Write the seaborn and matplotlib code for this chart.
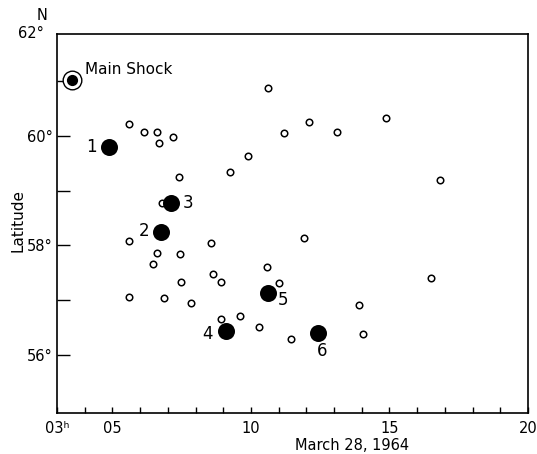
import matplotlib
matplotlib.use("Agg")
import matplotlib.pyplot as plt
import seaborn as sns
import pandas as pd

# Aftershocks (open circles): hour (UT, March 28 1964), latitude
after_hour = [5.60, 6.14, 6.61, 6.68, 7.19, 7.40, 6.79, 9.25, 9.90, 10.62,
              11.19, 12.10, 13.11, 14.88, 16.83, 5.60, 6.61, 7.44, 6.47, 7.48,
              5.60, 6.86, 7.84, 8.56, 8.63, 8.92, 11.92, 10.58, 11.01, 8.92,
              9.61, 10.29, 11.45, 13.90, 14.05, 16.50]
after_lat = [60.22, 60.07, 60.07, 59.87, 59.98, 59.25, 58.78, 59.34, 59.63, 60.88,
             60.05, 60.26, 60.07, 60.33, 59.20, 58.08, 57.86, 57.84, 57.66, 57.33,
             57.06, 57.04, 56.95, 58.05, 57.48, 57.33, 58.14, 57.61, 57.32, 56.66,
             56.71, 56.51, 56.29, 56.91, 56.38, 57.41]

# Large numbered events
big_label = ["1", "2", "3", "4", "5", "6"]
big_hour = [4.88, 6.75, 7.12, 9.10, 10.62, 12.42]
big_lat = [59.80, 58.25, 58.78, 56.44, 57.13, 56.40]

# Main shock
main_hour = [3.54]
main_lat = [61.02]

xtick_vals = [3, 5, 10, 15, 20]
xtick_labels = ["03ʰ", "05", "10", "15", "20"]
ytick_vals = [56, 58, 60]
ytick_labels = ["56°", "58°", "60°"]

sns.set_style("white")
plt.rcParams["font.family"] = ["DejaVu Sans"]
plt.rcParams["text.color"] = "black"
plt.rcParams["xtick.color"] = "black"
plt.rcParams["ytick.color"] = "black"

fig = plt.figure(figsize=(5.37, 4.54), dpi=100)
ax = fig.add_axes([57/537, 1-413/454, (528-57)/537, (413-34)/454])

df_after = pd.DataFrame({"hour": after_hour, "lat": after_lat})
df_big = pd.DataFrame({"hour": big_hour, "lat": big_lat, "label": big_label})
df_main = pd.DataFrame({"hour": main_hour, "lat": main_lat})

sns.scatterplot(data=df_after, x="hour", y="lat", ax=ax, s=22,
                facecolor="white", edgecolor="black", linewidth=1.1, zorder=3)
sns.scatterplot(data=df_big, x="hour", y="lat", ax=ax, s=150,
                color="black", edgecolor="black", linewidth=0, zorder=4)
sns.scatterplot(data=df_main, x="hour", y="lat", ax=ax, s=180,
                facecolor="white", edgecolor="black", linewidth=1.0, zorder=4, clip_on=False)
sns.scatterplot(data=df_main, x="hour", y="lat", ax=ax, s=65,
                color="black", linewidth=0, zorder=5, clip_on=False)

offsets = {"1": (-18, 0), "2": (-17, 1), "3": (17, 0), "4": (-19, -3),
           "5": (15, -7), "6": (4, -18)}
for lab, h, la in zip(big_label, big_hour, big_lat):
    ax.annotate(lab, (h, la), xytext=offsets[lab], textcoords="offset pixels",
                ha="center", va="center", fontsize=12, color="black")

ax.annotate("Main Shock", (main_hour[0], main_lat[0]), xytext=(13, 11),
            textcoords="offset pixels", ha="left", va="center", fontsize=11,
            color="black")

ax.set_xlim(3, 20)
ax.set_ylim(54.94, 61.86)
ax.set_xticks(xtick_vals)
ax.set_xticklabels(xtick_labels, fontsize=10.5)
ax.set_xticks(list(range(4, 20)), minor=True)
ax.set_yticks(ytick_vals)
ax.set_yticklabels(ytick_labels, fontsize=10.5)
ax.set_yticks([57, 59, 61], minor=True)

ax.tick_params(axis="x", which="both", direction="in", length=4, width=1, pad=6,
               bottom=True, top=False, colors="black")
ax.tick_params(axis="y", which="both", direction="in", length=9, width=1, pad=3,
               left=True, right=False, colors="black")

for sp in ax.spines.values():
    sp.set_visible(True)
    sp.set_color("black")
    sp.set_linewidth(1.2)

ax.set_xlabel("")
ax.set_ylabel("")

fig.text(44/537, 1-34/454, "62°", ha="right", va="center", fontsize=10.5, color="black")
fig.text(42/537, 1-15/454, "N", ha="center", va="center", fontsize=10.5, color="black")
fig.text(18/537, 1-221/454, "Latitude", rotation=90, ha="center", va="center",
         fontsize=11, color="black")
fig.text(352/537, 1-446/454, "March 28, 1964", ha="center", va="center",
         fontsize=10.5, color="black")

fig.savefig("out.png", dpi=100)
